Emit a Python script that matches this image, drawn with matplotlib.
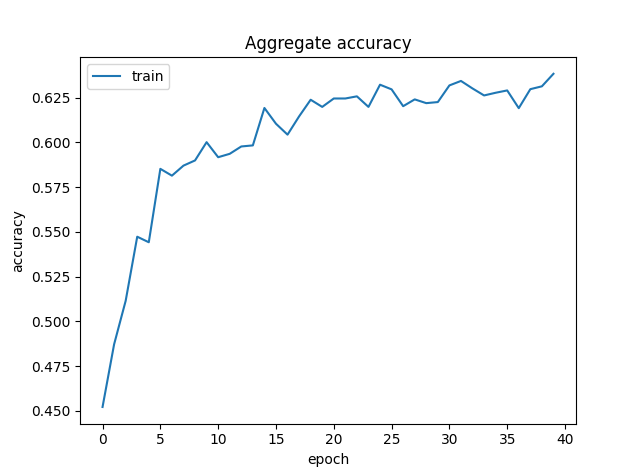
import numpy as np
import matplotlib
matplotlib.use("Agg")
import matplotlib.pyplot as plt

epochs = np.arange(40)
train_acc = [0.4522, 0.4872, 0.5115, 0.5473, 0.5442, 0.5852, 0.5814, 0.5870, 0.5899, 0.6001,
             0.5917, 0.5936, 0.5977, 0.5983, 0.6192, 0.6104, 0.6043, 0.6145, 0.6238, 0.6198,
             0.6245, 0.6245, 0.6257, 0.6198, 0.6322, 0.6296, 0.6202, 0.6240, 0.6219, 0.6225,
             0.6318, 0.6343, 0.6301, 0.6262, 0.6277, 0.6290, 0.6191, 0.6297, 0.6313, 0.6383]

fig = plt.figure(figsize=(6.4, 4.76), dpi=100)
plt.plot(epochs, train_acc, label="train")
plt.title("Aggregate accuracy")
plt.xlabel("epoch")
plt.ylabel("accuracy")
plt.legend(loc="upper left")
plt.savefig("out.png", dpi=100)
